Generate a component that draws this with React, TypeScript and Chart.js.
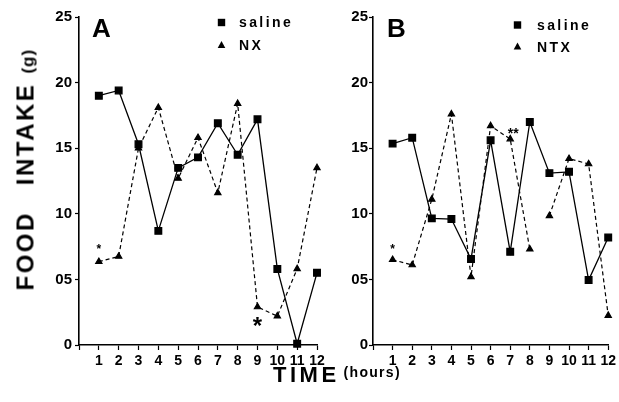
import React, { useEffect, useRef } from 'react';
import { Chart, registerables } from 'chart.js';
Chart.register(...registerables);

// ---- data ----
const hours = [1, 2, 3, 4, 5, 6, 7, 8, 9, 10, 11, 12];
const salineA = [19.0, 19.4, 15.3, 8.7, 13.5, 14.3, 16.9, 14.5, 17.2, 5.8, 0.1, 5.5];
const nxA = [6.35, 6.75, 15.0, 18.1, 12.7, 15.8, 11.6, 18.4, 2.9, 2.2, 5.8, 13.5];
const salineB = [15.35, 15.8, 9.65, 9.6, 6.55, 15.6, 7.1, 17.0, 13.1, 13.2, 4.95, 8.2];
const ntxB = [6.5, 6.1, 11.1, 17.6, 5.2, 16.7, 15.7, 7.3, 9.85, 14.2, 13.8, 2.25];
const gapsA: number[] = [];
const gapsB: number[] = [7]; // no dashed segment between hour 8 and 9
const yTickValues = [0, 5, 10, 15, 20, 25];
const yTickLabels = ['0', '05', '10', '15', '20', '25'];
const starsA = [
  { hour: 1, value: 7.5, mark: '*' },
  { hour: 9, value: 1.8, mark: '*' },
];
const starsB = [
  { hour: 1, value: 7.5, mark: '*' },
  { hour: 7.15, value: 16.35, mark: '**' },
];
const starSizesA = [12, 24];
const starSizesB = [12, 14];

const FONT = '"Liberation Sans", Arial, Helvetica, sans-serif';

const overlay = {
  id: 'overlay',
  afterDatasetsDraw(chart: any, _args: any, opts: any) {
    const { ctx, chartArea, scales } = chart;
    const L = chartArea.left;
    const T = chartArea.top;
    ctx.save();
    ctx.fillStyle = '#000';
    ctx.strokeStyle = '#000';
    // panel letter
    ctx.font = `bold 26px ${FONT}`;
    ctx.textAlign = 'left';
    ctx.textBaseline = 'alphabetic';
    ctx.fillText(opts.letter, L + opts.letterDx, T + opts.letterDy);
    // legend
    const lg = opts.legend;
    ctx.fillRect(L + lg.sqX - 3.7, T + lg.sqY - 3.7, 7.4, 7.4);
    ctx.beginPath();
    const tx = L + lg.triX, ty = T + lg.triY;
    ctx.moveTo(tx, ty - 4);
    ctx.lineTo(tx + 3.8, ty + 3);
    ctx.lineTo(tx - 3.8, ty + 3);
    ctx.closePath();
    ctx.fill();
    ctx.font = `bold 14px ${FONT}`;
    try { (ctx as any).letterSpacing = '2.4px'; } catch (e) {}
    ctx.fillText(opts.labels[0], L + lg.textX, T + lg.text1Y);
    ctx.fillText(opts.labels[1], L + lg.textX, T + lg.text2Y);
    try { (ctx as any).letterSpacing = '0px'; } catch (e) {}
    // significance stars
    ctx.textAlign = 'center';
    opts.stars.forEach((s: any, i: number) => {
      const fs = opts.starSizes[i];
      ctx.font = `bold ${fs}px ${FONT}`;
      const px = scales.x.getPixelForValue(s.hour);
      const py = scales.y.getPixelForValue(s.value);
      ctx.fillText(s.mark, px, py + 0.52 * fs);
    });
    ctx.restore();
  },
};

function makeChart(canvas: HTMLCanvasElement, p: any) {
  const pts = (arr: number[]) => hours.map((h, i) => ({ x: h, y: arr[i] }));
  return new Chart(canvas, {
    type: 'line',
    data: {
      datasets: [
        {
          label: 'saline',
          data: pts(p.saline),
          borderColor: '#000',
          backgroundColor: '#000',
          pointBackgroundColor: '#000',
          pointBorderColor: '#000',
          borderWidth: 1.3,
          pointStyle: 'rect',
          pointRadius: 4.7,
          tension: 0,
          clip: false,
        } as any,
        {
          label: p.labels[1],
          data: pts(p.drug),
          borderColor: '#000',
          backgroundColor: '#000',
          pointBackgroundColor: '#000',
          pointBorderColor: '#000',
          borderWidth: 1.2,
          borderDash: [4, 3],
          pointStyle: 'triangle',
          pointRadius: 3.6,
          tension: 0,
          clip: false,
          segment: {
            borderColor: (c: any) => (p.gaps.includes(c.p0DataIndex) ? 'rgba(0,0,0,0)' : '#000'),
          },
        } as any,
      ],
    },
    options: {
      responsive: false,
      animation: false,
      devicePixelRatio: 1,
      layout: { padding: { top: 17, right: p.padRight, left: 0, bottom: 0 } },
      plugins: {
        legend: { display: false },
        tooltip: { enabled: false },
        overlay: {
          letter: p.letter,
          letterDx: p.letterDx,
          letterDy: 20,
          legend: p.legend,
          labels: p.labels,
          stars: p.stars,
          starSizes: p.starSizes,
        },
      } as any,
      scales: {
        x: {
          type: 'linear',
          min: 0,
          max: 12,
          afterFit: (s: any) => { s.height = 57; },
          ticks: {
            stepSize: 1,
            color: '#000',
            font: { family: FONT, size: 14, weight: 'bold' },
            padding: 3,
            maxRotation: 0,
            autoSkip: false,
            callback: (v: any) => (v === 0 ? '' : String(v)),
          },
          grid: { display: true, drawOnChartArea: false, tickLength: 5, color: '#000', tickWidth: 1.2 },
          border: { display: true, color: '#000', width: 1.6 },
        },
        y: {
          type: 'linear',
          min: 0,
          max: 25,
          afterFit: (s: any) => { s.width = p.yWidth; },
          afterBuildTicks: (s: any) => { s.ticks = yTickValues.map((v) => ({ value: v })); },
          ticks: {
            color: '#000',
            font: { family: FONT, size: 15, weight: 'bold' },
            padding: p.yPad,
            callback: (v: any) => {
              const i = yTickValues.indexOf(Number(v));
              return i >= 0 ? yTickLabels[i] : '';
            },
          },
          grid: { display: true, drawOnChartArea: false, tickLength: 4, color: '#000', tickWidth: 1.2 },
          border: { display: true, color: '#000', width: 1.6 },
        },
      },
    } as any,
    plugins: [overlay as any],
  });
}

export default function App() {
  const refA = useRef<HTMLCanvasElement>(null);
  const refB = useRef<HTMLCanvasElement>(null);

  useEffect(() => {
    const a = makeChart(refA.current!, {
      saline: salineA,
      drug: nxA,
      gaps: gapsA,
      labels: ['saline', 'NX'],
      letter: 'A',
      letterDx: 13,
      yWidth: 79,
      yPad: 3,
      padRight: 13,
      stars: starsA,
      starSizes: starSizesA,
      legend: { sqX: 142.5, sqY: 5.5, triX: 142.5, triY: 28, textX: 160, text1Y: 10, text2Y: 33 },
    });
    const b = makeChart(refB.current!, {
      saline: salineB,
      drug: ntxB,
      gaps: gapsB,
      labels: ['saline', 'NTX'],
      letter: 'B',
      letterDx: 14,
      yWidth: 43,
      yPad: 1,
      padRight: 9,
      stars: starsB,
      starSizes: starSizesB,
      legend: { sqX: 144.5, sqY: 8, triX: 144.5, triY: 29.5, textX: 164, text1Y: 13, text2Y: 35 },
    });
    return () => {
      a.destroy();
      b.destroy();
    };
  }, []);

  return (
    <div
      style={{
        position: 'absolute',
        left: 0,
        top: 0,
        width: 619,
        height: 402,
        background: '#fff',
        overflow: 'hidden',
        fontFamily: FONT,
        color: '#000',
      }}
    >
      <canvas ref={refA} width={330} height={402} style={{ position: 'absolute', left: 0, top: 0 }} />
      <canvas ref={refB} width={289} height={402} style={{ position: 'absolute', left: 330, top: 0 }} />
      <div
        style={{
          position: 'absolute',
          left: 25 - 118.5,
          top: 171.5 - 12,
          width: 237,
          height: 24,
          lineHeight: '24px',
          display: 'flex',
          alignItems: 'baseline',
          whiteSpace: 'nowrap',
          transform: 'rotate(-90deg)',
          transformOrigin: '50% 50%',
          fontWeight: 'bold',
        }}
      >
        <span style={{ fontSize: 24, letterSpacing: '2.5px' }}>FOOD</span>
        <span style={{ fontSize: 24, letterSpacing: '2.5px', marginLeft: 26 }}>INTAKE</span>
        <span style={{ fontSize: 17, letterSpacing: '1px', marginLeft: 9 }}>(g)</span>
      </div>
      <div
        style={{
          position: 'absolute',
          left: 273,
          top: 363,
          height: 24,
          lineHeight: '24px',
          display: 'flex',
          alignItems: 'baseline',
          whiteSpace: 'nowrap',
          fontWeight: 'bold',
        }}
      >
        <span style={{ fontSize: 22, letterSpacing: '3.5px' }}>TIME</span>
        <span style={{ fontSize: 14, letterSpacing: '1.3px', marginLeft: 4, position: 'relative', top: -5 }}>(hours)</span>
      </div>
    </div>
  );
}
